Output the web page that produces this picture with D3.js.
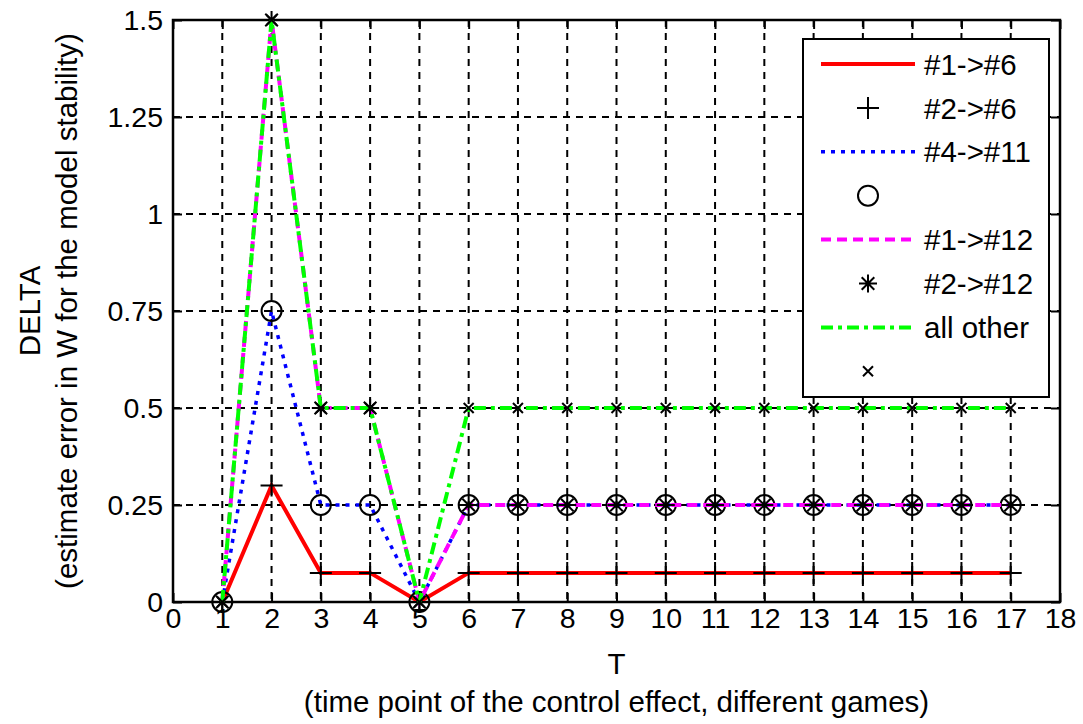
<!DOCTYPE html>
<html>
<head>
<meta charset="utf-8">
<script src="https://cdn.jsdelivr.net/npm/d3@7"></script>
<style>
  html, body { margin: 0; padding: 0; background: #fff; }
  svg { display: block; font-family: "Liberation Sans", Arial, sans-serif; }
</style>
</head>
<body>
<svg id="chart" width="1083" height="724"></svg>
<script>
// data
const T = [1, 2, 3, 4, 5, 6, 7, 8, 9, 10, 11, 12, 13, 14, 15, 16, 17];
const d1to6 = [0, 0.3, 0.075, 0.075, 0, 0.075, 0.075, 0.075, 0.075, 0.075, 0.075, 0.075, 0.075, 0.075, 0.075, 0.075, 0.075];
const d4to11 = [0, 0.75, 0.25, 0.25, 0, 0.25, 0.25, 0.25, 0.25, 0.25, 0.25, 0.25, 0.25, 0.25, 0.25, 0.25, 0.25];
const d1to12 = [0, 1.5, 0.5, 0.5, 0, 0.25, 0.25, 0.25, 0.25, 0.25, 0.25, 0.25, 0.25, 0.25, 0.25, 0.25, 0.25];
const dOther = [0, 1.5, 0.5, 0.5, 0, 0.5, 0.5, 0.5, 0.5, 0.5, 0.5, 0.5, 0.5, 0.5, 0.5, 0.5, 0.5];

const xTicks = [0, 1, 2, 3, 4, 5, 6, 7, 8, 9, 10, 11, 12, 13, 14, 15, 16, 17, 18];
const yTicks = [0, 0.25, 0.5, 0.75, 1, 1.25, 1.5];

const legendLabels = ['#1->#6', '#2->#6', '#4->#11', '', '#1->#12', '#2->#12', 'all other', ''];

const margin = { top: 20, right: 23, bottom: 122, left: 173 };
const W = 1083, H = 724;
const width = W - margin.left - margin.right;
const height = H - margin.top - margin.bottom;

const svg = d3.select('#chart');
const g = svg.append('g').attr('transform', `translate(${margin.left},${margin.top})`);

const x = d3.scaleLinear().domain([0, 18]).range([0, width]);
const y = d3.scaleLinear().domain([0, 1.5]).range([height, 0]);

// dashed grid
const grid = g.append('g').attr('stroke', '#000').attr('stroke-width', 2).attr('stroke-dasharray', '7,6');
grid.selectAll('line.vx')
  .data(xTicks.filter((d) => d > 0 && d < 18))
  .join('line')
  .attr('x1', (d) => x(d)).attr('x2', (d) => x(d))
  .attr('y1', 0).attr('y2', height);
grid.selectAll('line.hy')
  .data(yTicks.filter((d) => d > 0 && d < 1.5))
  .join('line')
  .attr('x1', 0).attr('x2', width)
  .attr('y1', (d) => y(d)).attr('y2', (d) => y(d));

// axes with inward ticks
const tickFont = 28.5;
const textFont = 29.5;
const styleAxis = (sel) => {
  sel.select('.domain').remove();
  sel.selectAll('.tick line').attr('stroke', '#000').attr('stroke-width', 2);
  sel.selectAll('.tick text').attr('font-size', tickFont).attr('fill', '#000')
    .attr('font-family', '"Liberation Sans", Arial, sans-serif');
};

g.append('g')
  .attr('transform', `translate(0,${height})`)
  .call(d3.axisBottom(x).tickValues(xTicks).tickSize(-9).tickPadding(6).tickFormat(d3.format('d')))
  .call(styleAxis);
g.append('g')
  .call(d3.axisTop(x).tickValues(xTicks).tickSize(-9).tickFormat(''))
  .call(styleAxis);
g.append('g')
  .call(d3.axisLeft(y).tickValues(yTicks).tickSize(-9).tickPadding(10).tickFormat((d) => String(d)))
  .call(styleAxis);
g.append('g')
  .attr('transform', `translate(${width},0)`)
  .call(d3.axisRight(y).tickValues(yTicks).tickSize(-9).tickFormat(''))
  .call(styleAxis);

// frame
g.append('rect')
  .attr('width', width).attr('height', height)
  .attr('fill', 'none').attr('stroke', '#000').attr('stroke-width', 2.5);

// marker shapes
const markerPath = {
  plus: (r) => `M${-r},0H${r}M0,${-r}V${r}`,
  circle: (r) => `M${r},0A${r},${r} 0 1,1 ${-r},0A${r},${r} 0 1,1 ${r},0`,
  star: (r) => {
    const a = r * 0.7;
    return `M${-r},0H${r}M0,${-r}V${r}M${-a},${-a}L${a},${a}M${-a},${a}L${a},${-a}`;
  },
  cross: (r) => `M${-r},${-r}L${r},${r}M${-r},${r}L${r},${-r}`,
};

const series = [
  { values: d1to6, color: '#ff0000', width: 4, dash: null },
  { values: d1to6, marker: 'plus', size: 11 },
  { values: d4to11, color: '#0000ff', width: 3.5, dash: '4,6' },
  { values: d4to11, marker: 'circle', size: 10 },
  { values: d1to12, color: '#ff00ff', width: 4, dash: '10,6' },
  { values: d1to12, marker: 'star', size: 9 },
  { values: dOther, color: '#00ff00', width: 4, dash: '12,5,4,5' },
  { values: dOther, marker: 'cross', size: 5 },
];

const line = d3.line().x((d) => x(d[0])).y((d) => y(d[1]));

series.forEach((s) => {
  const pts = T.map((t, i) => [t, s.values[i]]);
  if (s.marker) {
    g.append('g').selectAll('path')
      .data(pts)
      .join('path')
      .attr('transform', (d) => `translate(${x(d[0])},${y(d[1])})`)
      .attr('d', markerPath[s.marker](s.size))
      .attr('fill', 'none')
      .attr('stroke', '#000')
      .attr('stroke-width', 2);
  } else {
    g.append('path')
      .datum(pts)
      .attr('d', line)
      .attr('fill', 'none')
      .attr('stroke', s.color)
      .attr('stroke-width', s.width)
      .attr('stroke-dasharray', s.dash);
  }
});

// legend
const lg = svg.append('g').attr('transform', 'translate(803,39)');
lg.append('rect')
  .attr('width', 246).attr('height', 358)
  .attr('fill', '#fff').attr('stroke', '#000').attr('stroke-width', 2);

const rowY = (i) => 25 + i * 43.9;
series.forEach((s, i) => {
  const row = lg.append('g').attr('transform', `translate(0,${rowY(i)})`);
  if (s.marker) {
    row.append('path')
      .attr('transform', 'translate(65,0)')
      .attr('d', markerPath[s.marker](s.size))
      .attr('fill', 'none').attr('stroke', '#000').attr('stroke-width', 2);
  } else {
    row.append('line')
      .attr('x1', 18).attr('x2', 112)
      .attr('stroke', s.color)
      .attr('stroke-width', s.width)
      .attr('stroke-dasharray', s.dash);
  }
  row.append('text')
    .attr('x', 121)
    .attr('dy', '0.36em')
    .attr('font-size', textFont)
    .text(legendLabels[i]);
});

// axis titles
const xl = svg.append('text')
  .attr('text-anchor', 'middle')
  .attr('font-size', textFont)
  .attr('transform', `translate(${margin.left + width / 2},0)`);
xl.append('tspan').attr('x', 0).attr('y', 674).text('T');
xl.append('tspan').attr('x', 0).attr('y', 712).text('(time point of the control effect, different games)');

const yl = svg.append('text')
  .attr('text-anchor', 'middle')
  .attr('font-size', textFont)
  .attr('transform', `translate(0,${margin.top + height / 2}) rotate(-90)`);
yl.append('tspan').attr('x', 0).attr('y', 40).text('DELTA');
yl.append('tspan').attr('x', 0).attr('y', 77).text('(estimate error in W for the model stability)');
</script>
</body>
</html>
